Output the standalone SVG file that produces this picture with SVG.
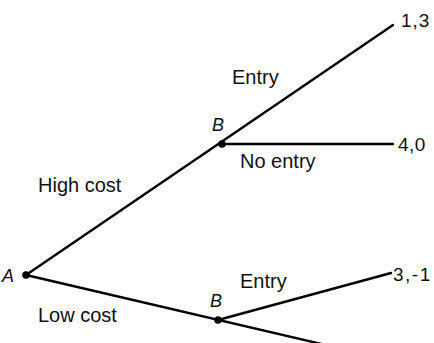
<svg xmlns="http://www.w3.org/2000/svg" width="434" height="343" viewBox="0 0 434 343">
<style>
.e{stroke:#000;stroke-width:2.4;fill:none;stroke-linecap:round}
.t{font-family:"Liberation Sans",Arial,sans-serif;font-size:20px;fill:#111}
.p{font-family:"Liberation Sans",Arial,sans-serif;font-size:19px;fill:#111}
.n{font-family:"Liberation Sans",Arial,sans-serif;font-size:18px;font-style:italic;fill:#111}
</style>
<rect width="434" height="343" fill="#fff"/>
<g id="edges">
<line class="e" x1="26" y1="275" x2="393" y2="25"/>
<line class="e" x1="222" y1="144" x2="393" y2="144"/>
<line class="e" x1="26" y1="275" x2="330" y2="346"/>
<line class="e" x1="218" y1="320" x2="391" y2="273"/>
<text class="t" x="232" y="84">Entry</text>
<text class="t" x="240" y="168">No entry</text>
<text class="t" x="38" y="192">High cost</text>
<text class="t" x="38" y="322">Low cost</text>
<text class="t" x="240" y="288">Entry</text>
</g>
<g id="A"><circle cx="26" cy="275" r="3.8"/><text class="n" x="2" y="282">A</text></g>
<g id="B1"><circle cx="222" cy="144" r="3.8"/><text class="n" x="212" y="131">B</text></g>
<g id="B2"><circle cx="218" cy="320" r="3.8"/><text class="n" x="210" y="307">B</text></g>
<g id="o1"><text class="p" x="401" y="27" letter-spacing="1">1,3</text></g>
<g id="o2"><text class="p" x="398" y="151" letter-spacing="0.5">4,0</text></g>
<g id="o3"><text class="p" x="393" y="281" letter-spacing="1.5">3,-1</text></g>
</svg>
